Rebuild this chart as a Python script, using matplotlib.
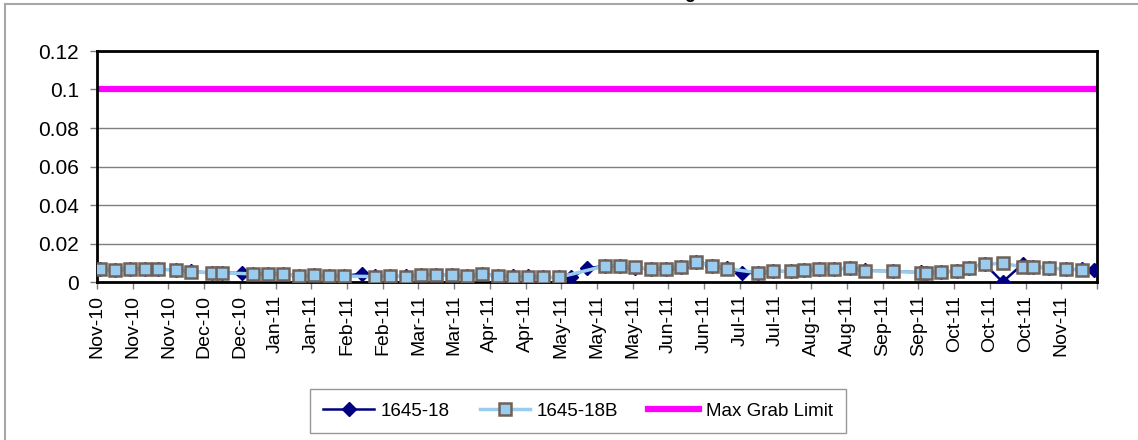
import matplotlib
matplotlib.use("Agg")
import matplotlib.pyplot as plt
import pandas as pd

plt.rcParams['font.family'] = ['Liberation Sans', 'DejaVu Sans']

# sample dates and results (mg/L)
dates_b = ["2010-11-02", "2010-11-08", "2010-11-14", "2010-11-20", "2010-11-25",
           "2010-12-02", "2010-12-08", "2010-12-16", "2010-12-20", "2011-01-01",
           "2011-01-07", "2011-01-13", "2011-01-19", "2011-01-25", "2011-01-31",
           "2011-02-06", "2011-02-18", "2011-02-24", "2011-03-02", "2011-03-08",
           "2011-03-14", "2011-03-20", "2011-03-26", "2011-04-01", "2011-04-07",
           "2011-04-13", "2011-04-19", "2011-04-25", "2011-05-01", "2011-05-19",
           "2011-05-25", "2011-05-31", "2011-06-06", "2011-06-12", "2011-06-18",
           "2011-06-24", "2011-06-30", "2011-07-06", "2011-07-18", "2011-07-24",
           "2011-07-31", "2011-08-05", "2011-08-11", "2011-08-17", "2011-08-23",
           "2011-08-29", "2011-09-09", "2011-09-20", "2011-09-22", "2011-09-28",
           "2011-10-04", "2011-10-09", "2011-10-15", "2011-10-22", "2011-10-30",
           "2011-11-03", "2011-11-09", "2011-11-16", "2011-11-22"]
values_b = [0.0069, 0.0062, 0.0069, 0.0066, 0.0066, 0.0062, 0.0054, 0.0048, 0.0048, 0.0042,
            0.0042, 0.0042, 0.0031, 0.0035, 0.0031, 0.0031, 0.0028, 0.0031, 0.0028, 0.0035,
            0.0035, 0.0035, 0.0031, 0.0042, 0.0031, 0.0028, 0.0028, 0.0024, 0.0024, 0.0083,
            0.0083, 0.0076, 0.0069, 0.0069, 0.0079, 0.0104, 0.0083, 0.0070, 0.0048, 0.0056,
            0.0055, 0.0062, 0.0066, 0.0066, 0.0073, 0.0059, 0.0055, 0.0049, 0.0048, 0.0052,
            0.0056, 0.0074, 0.0092, 0.0097, 0.0078, 0.0078, 0.0073, 0.0066, 0.0064]

dates_a = ["2010-11-02", "2010-11-08", "2010-11-14", "2010-11-20", "2010-11-25",
           "2010-12-02", "2010-12-08", "2010-12-16", "2010-12-20", "2010-12-28",
           "2011-01-01", "2011-01-07", "2011-01-13", "2011-01-19", "2011-01-25",
           "2011-01-31", "2011-02-06", "2011-02-13", "2011-02-18", "2011-02-24",
           "2011-03-02", "2011-03-08", "2011-03-14", "2011-03-20", "2011-03-26",
           "2011-04-01", "2011-04-07", "2011-04-13", "2011-04-19", "2011-04-25",
           "2011-05-01", "2011-05-06", "2011-05-12", "2011-05-19", "2011-05-25",
           "2011-05-31", "2011-06-06", "2011-06-12", "2011-06-18", "2011-06-24",
           "2011-06-30", "2011-07-06", "2011-07-12", "2011-07-18", "2011-07-24",
           "2011-07-31", "2011-08-05", "2011-08-11", "2011-08-17", "2011-08-23",
           "2011-08-29", "2011-09-09", "2011-09-20", "2011-09-22", "2011-09-28",
           "2011-10-04", "2011-10-09", "2011-10-15", "2011-10-22", "2011-10-30",
           "2011-11-03", "2011-11-09", "2011-11-16", "2011-11-22", "2011-11-27"]
values_a = [0.0070, 0.0064, 0.0070, 0.0067, 0.0066, 0.0063, 0.0055, 0.0048, 0.0049, 0.0046,
            0.0043, 0.0043, 0.0042, 0.0032, 0.0036, 0.0032, 0.0031, 0.0044, 0.0029, 0.0032,
            0.0029, 0.0036, 0.0037, 0.0036, 0.0032, 0.0043, 0.0032, 0.0029, 0.0029, 0.0025,
            0.0025, 0.0024, 0.0071, 0.0083, 0.0082, 0.0075, 0.0068, 0.0068, 0.0079, 0.0106,
            0.0084, 0.0071, 0.0045, 0.0049, 0.0057, 0.0056, 0.0063, 0.0067, 0.0067, 0.0074,
            0.0060, 0.0056, 0.0050, 0.0049, 0.0053, 0.0057, 0.0075, 0.0093, 0.0000, 0.0095,
            0.0080, 0.0075, 0.0068, 0.0065, 0.0062]

max_grab_limit = 0.1

axis_start = "2010-11-01"
axis_end = "2011-11-28"

fig = plt.figure(figsize=(11.38, 4.40), dpi=100)
ax = fig.add_axes([97 / 1138, 158 / 440, 1000 / 1138, 231 / 440])

xa = pd.to_datetime(dates_a)
xb = pd.to_datetime(dates_b)

ax.plot(xa, values_a, color='#000080', lw=1.8, marker='D', ms=7,
        mfc='#000080', mec='#000080', label='1645-18', zorder=3)
ax.plot(xb, values_b, color='#99CCEE', lw=2.5, marker='s', ms=9.3,
        mfc='#99CCEE', mec='#6E625A', mew=1.8, label='1645-18B', zorder=4)
ax.axhline(max_grab_limit, color='#FF00FF', lw=4.5, label='Max Grab Limit', zorder=2)

ticks = pd.date_range(axis_start, periods=29, freq='14D')
ax.set_xlim(pd.Timestamp(axis_start), pd.Timestamp(axis_end))
ax.set_xticks(ticks)
ax.set_xticklabels([t.strftime('%b-%y') for t in ticks[:-1]] + [''], rotation=90,
                   fontsize=14)

ax.set_ylim(0, 0.12)
ax.set_yticks([0, 0.02, 0.04, 0.06, 0.08, 0.1, 0.12])
ax.set_yticklabels(['0', '0.02', '0.04', '0.06', '0.08', '0.1', '0.12'], fontsize=15)
ax.yaxis.grid(True, color='#7F7F7F', lw=1)
ax.set_axisbelow(True)
ax.tick_params(axis='both', length=5, width=1, color='#7F7F7F')
ax.tick_params(axis='x', pad=4)
ax.tick_params(axis='y', pad=8)

for side in ['left', 'bottom', 'top', 'right']:
    ax.spines[side].set_linewidth(2)
    ax.spines[side].set_color('black')

# chart-area border and clipped title remnant
fig.add_artist(plt.Line2D([5 / 1138, 1], [1 - 4.5 / 440, 1 - 4.5 / 440],
                          color='#A6A6A6', lw=1.5, transform=fig.transFigure))
fig.add_artist(plt.Line2D([5 / 1138, 5 / 1138], [0, 1 - 4.5 / 440],
                          color='#A6A6A6', lw=1.5, transform=fig.transFigure))
fig.text(690 / 1138, 1 + 2 / 440, 'g', fontsize=13, fontweight='bold',
         ha='center', va='baseline')

leg = fig.legend(loc='center', bbox_to_anchor=(578 / 1138, 1 - 411 / 440), ncol=3,
                 fontsize=13.5, frameon=True, fancybox=False, edgecolor='#7F7F7F',
                 handlelength=2.7, columnspacing=1.6, handletextpad=0.35,
                 borderpad=0.7)
leg.get_frame().set_linewidth(1)

fig.savefig('out.png', dpi=100)
